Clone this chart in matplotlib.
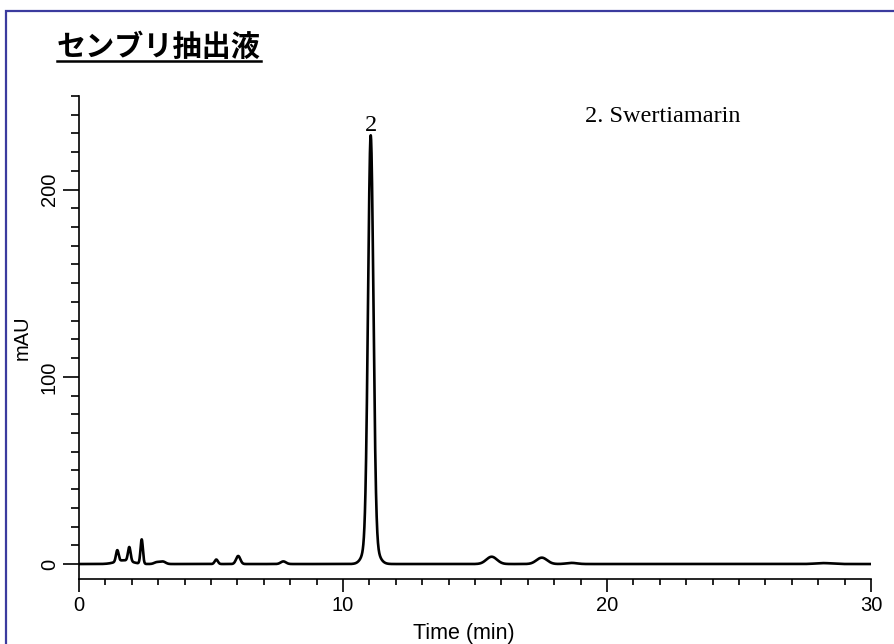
import matplotlib
matplotlib.use("Agg")
import matplotlib.pyplot as plt
import numpy as np
from matplotlib.lines import Line2D
from matplotlib.patches import Rectangle
from matplotlib.ticker import MultipleLocator

# peak table (time in min, height in mAU, width sigma in min)
peak_times = [1.45, 1.70, 1.905, 2.375, 2.95, 3.18, 5.20, 6.03, 7.74,
              11.05, 11.05, 15.63, 17.53, 18.66, 28.20]
peak_heights = [6.0, 2.0, 7.5, 13.0, 1.0, 1.3, 2.4, 4.3, 1.4,
                215.0, 14.0, 3.9, 3.4, 0.6, 0.5]
peak_sigmas = [0.05, 0.30, 0.05, 0.045, 0.10, 0.10, 0.06, 0.08, 0.10,
               0.10, 0.22, 0.20, 0.20, 0.20, 0.30]
labelled_peak = {"2": 11.05}
title = "センブリ抽出液"
compound_note = "2. Swertiamarin"


def build_trace(t):
    y = np.zeros_like(t)
    for t0, h, s in zip(peak_times, peak_heights, peak_sigmas):
        y += h * np.exp(-0.5 * ((t - t0) / s) ** 2)
    return y


def main():
    fig = plt.figure(figsize=(8.94, 6.44), dpi=100)
    ax = fig.add_axes([79 / 894, 1 - 579 / 644, 792 / 894, 483 / 644])

    t = np.linspace(0, 30, 6001)
    ax.plot(t, build_trace(t), color="black", lw=1.9)

    ax.set_xlim(0, 30)
    ax.set_ylim(-8, 250)
    for side in ["top", "right"]:
        ax.spines[side].set_visible(False)
    ax.spines["left"].set_linewidth(1.2)
    ax.spines["bottom"].set_linewidth(1.2)

    ax.xaxis.set_major_locator(MultipleLocator(10))
    ax.xaxis.set_minor_locator(MultipleLocator(1))
    ax.yaxis.set_major_locator(MultipleLocator(100))
    ax.yaxis.set_minor_locator(MultipleLocator(10))
    ax.tick_params(axis="x", which="major", length=9.5, width=1.2,
                   labelsize=14.5, pad=3)
    ax.tick_params(axis="x", which="minor", length=4.5, width=1.2)
    ax.tick_params(axis="y", which="major", length=11.5, width=1.2,
                   labelsize=14.5, pad=3)
    ax.tick_params(axis="y", which="minor", length=5.8, width=1.2)
    for lab in ax.get_xticklabels() + ax.get_yticklabels():
        lab.set_family("Liberation Sans")
    for lab in ax.get_yticklabels():
        lab.set_rotation(90)
        lab.set_va("center")

    ax.set_xlabel("Time (min)", family="Liberation Sans", fontsize=15.5,
                  labelpad=3)
    ax.xaxis.set_label_coords((464 - 79) / 792, -0.092)
    ax.set_ylabel("mAU", family="Liberation Sans", fontsize=14.5, labelpad=6)

    for name, tp in labelled_peak.items():
        ax.text(tp, 231.5, name, family="Liberation Serif", fontsize=17.5,
                ha="center", va="baseline")
    fig.text(585 / 894, 1 - 122 / 644, compound_note,
             family="Liberation Serif", fontsize=17.5, ha="left",
             va="baseline")

    ttl = fig.text(57 / 894, 1 - 47 / 644, title,
                   family=["Noto Sans CJK JP", "DejaVu Sans"],
                   fontsize=21, fontweight="bold", ha="left", va="center")
    fig.canvas.draw()
    bb = ttl.get_window_extent()
    uy = 1 - 61 / 644
    fig.add_artist(Line2D([bb.x0 / 894, bb.x1 / 894], [uy, uy],
                          transform=fig.transFigure, color="black", lw=1.8))

    # frame around the whole picture
    fig.add_artist(Rectangle((6 / 894, -0.05), 1.0, 1 - 11 / 644 + 0.05,
                             transform=fig.transFigure, fill=False,
                             edgecolor="#3b3b9e", lw=1.6))

    fig.savefig("out.png", dpi=100)


if __name__ == "__main__":
    main()
